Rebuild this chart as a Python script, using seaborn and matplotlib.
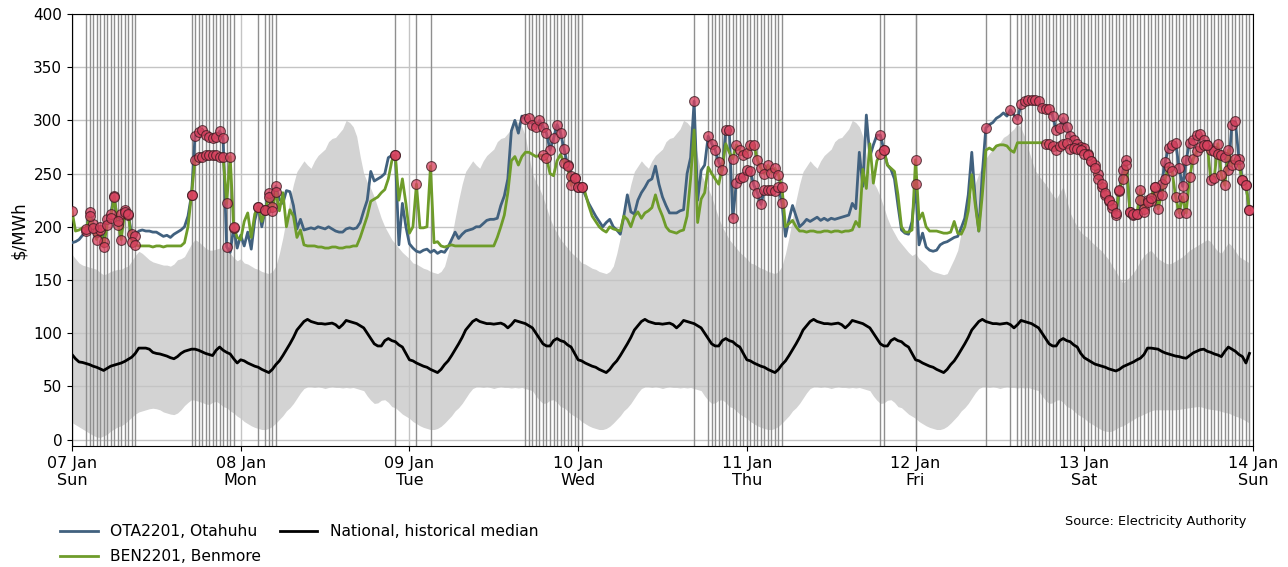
import numpy as np
import pandas as pd
import matplotlib
matplotlib.use("Agg")
import matplotlib.pyplot as plt
import matplotlib.dates as mdates
import seaborn as sns

# Half-hourly prices ($/MWh), one list of 48 trading periods per day
ota_sun = [185,186,188,192,196,214,203,195,197,186,207,212,229,202,212,216,211,193,191,196,
           197,196,196,195,195,193,191,192,190,193,195,197,200,210,230,285,289,291,286,284,
           283,284,290,283,181,176,199,180]
ota_mon = [192,182,195,179,206,219,200,216,232,219,238,226,222,234,233,220,198,207,197,198,
           199,198,200,199,198,200,198,196,195,195,198,199,198,199,204,215,225,252,243,245,
           247,250,265,267,267,183,222,200]
ota_tue = [184,180,177,176,178,179,176,178,175,177,176,181,188,195,189,193,196,197,198,200,
           200,203,206,207,207,208,220,229,245,290,300,288,304,301,302,296,294,300,294,288,
           272,283,296,288,273,258,248,246]
ota_wed = [237,237,230,222,216,210,205,200,204,207,200,197,193,210,230,214,212,225,232,237,
           243,245,257,240,228,220,213,213,213,215,216,250,265,318,225,253,258,285,278,272,
           261,253,291,291,208,241,246,247]
ota_thu = [253,252,239,232,221,235,235,235,234,237,222,191,207,220,210,200,203,207,205,207,
           209,206,208,206,208,207,208,209,210,211,222,217,270,238,305,266,277,286,286,272,
           258,254,245,220,197,194,193,205]
ota_fri = [240,183,194,181,178,177,178,183,185,186,188,190,191,199,208,230,270,225,196,250,
           293,296,298,302,304,307,304,310,305,301,315,318,319,319,319,318,312,311,311,304,
           291,293,302,294,285,282,278,275]
ota_sat = [274,268,262,258,250,237,230,224,218,211,234,253,263,214,211,212,225,217,225,224,
           237,230,240,261,274,277,279,255,238,263,279,282,286,287,282,277,272,271,268,267,
           266,253,296,299,264,244,239,216]

ben_sun = [215,196,197,199,198,210,199,188,200,181,202,208,228,205,188,214,212,186,183,182,
           182,182,182,181,182,182,181,182,182,182,182,182,185,200,230,263,266,266,267,267,
           267,267,266,266,222,266,200,190]
ben_mon = [188,205,213,190,212,219,205,216,228,215,233,215,232,200,216,210,190,197,183,182,
           182,182,181,181,180,180,181,181,180,180,181,181,182,182,190,200,210,224,226,228,
           232,235,245,262,267,225,245,222]
ben_tue = [194,200,240,199,199,200,257,185,186,182,181,182,183,182,182,182,182,182,182,182,
           182,182,182,182,182,190,200,211,232,262,266,258,266,270,270,268,266,267,267,265,
           250,248,262,268,260,257,239,246]
ben_wed = [237,237,232,220,210,205,200,197,195,200,198,197,196,210,207,200,210,214,208,213,
           215,218,230,218,210,200,196,195,194,196,197,210,245,291,204,226,232,256,250,245,
           240,255,278,270,264,277,272,267]
ben_thu = [269,277,277,263,255,250,258,251,255,249,237,200,203,206,200,196,196,195,196,196,
           195,195,196,196,195,196,196,195,196,196,197,205,200,254,236,278,241,262,268,272,
           258,255,252,230,200,195,195,197]
ben_fri = [263,207,213,200,196,196,196,195,194,194,195,205,194,193,200,215,249,220,196,230,
           272,274,272,276,277,277,276,272,270,279,279,279,279,279,279,279,279,278,278,276,
           272,276,278,279,273,274,273,272]
ben_sat = [268,267,262,255,245,240,232,225,220,213,235,245,258,214,212,212,235,214,223,227,
           237,217,230,245,256,252,228,213,228,213,247,264,271,275,277,277,244,246,278,249,
           239,272,258,264,258,244,239,216]

# National historical median and range by day type
med_sun = [80,76,73,72.5,71.5,70.5,69,68,66.5,65,67,69,70,71,72,73.5,75.5,77.5,81,86,
           86,86,85,82,81,80.5,79.5,78.5,77,76,78,81,83,84,85,85,84,82.5,81,80,
           79,84,87,84,82,80.5,76,72]
med_wkd = [75,74,72,70.5,69,68,66,64.5,63,66,70.5,74,79,84.5,90,96,103,107,111,113,
           111,110,109,109,108.5,109,109.5,108,105,108,112,111,110,109,107,105,100,95,90,88,
           88,93,95,93,92,89,87,81]
med_sat = [77,75,73,71,70,69,68,66.5,65.5,64.5,66,68.5,70,71.5,73,75,76.6,80,86,86,
           85.5,85,83,81.5,80.5,79.5,78.5,78,77,76.5,79,81.5,83,84.5,85,83,82,80.5,79.5,78,
           83,87,85,83,80,78,72,81]

lo_sun = [16,14,12,10,8,6,4,2.5,2,3.5,5,8,10,12,13,15,18,21,24,26,
          27,28,29,29.5,29,28,26,25,24,23.5,25,28,32,35,37.5,37,36,35,33.5,33,
          35,36,34,31,30,27,25,22]
lo_wkd = [20,17,15,13,11.5,10.5,9.5,9.5,10.5,12.5,15.5,19,22.5,27,30,34,39,44,48,49.5,
          49.5,49,49.5,49,48,49,49.5,49,49,48.5,49,48.5,49,48,47,46,41,37,34,34.5,
          37,37.5,35,31,30,27,24,22]
lo_sat = [20,17,15,13,11,9,8,7.5,8,10,12,13,15,17,19,21,22.5,24,25.5,27,
          28,28,28,28,28,28,28,28.5,29,29.5,30,30.5,31,31,30,29,28.5,28,27.5,26.5,
          25.5,25,23.5,22,21,19.5,17.5,15.5]

hi_sun = [174,170,166,164,163,162,161,160,157,155,156,158,159,160,160,162,163,168,173,177,
          175,172,169,167,166,165,164,164,163,165,169,170,172,178,184,188,186,183,180,178,
          178,179,180,180,178,175,171,168]
hi_wkd = [170,166,165,163,161,160,158,157,156,158,163,175,190,208,225,240,252,257,262,258,
          255,262,267,270,273,280,283,284,288,292,300,298,294,285,266,250,242,236,228,218,
          208,200,194,188,184,180,176,173]
hi_fri = [175,170,167,164,160,158,157,156,155,156,163,170,178,195,205,220,232,241,250,258,
          264,269,273,276,279,284,286,289,292,297,293,285,274,263,253,248,244,240,235,230,
          226,232,238,225,213,206,200,195]
hi_sat = [192,190,186,183,180,177,173,169,163,158,152,147,150,153,157,162,168,173,176,178,
          174,170,168,166,165,166,168,170,172,175,178,180,182,184,186,188,186,181,177,175,
          180,185,182,177,172,170,168,166]

# Flagged trading periods (index from 07 Jan 00:00)
ota_flag = (list(range(4, 19)) + list(range(34, 45)) + [46, 53, 55, 56, 57, 58, 92]
            + list(range(129, 146)) + [177] + list(range(181, 203))
            + [230, 231, 240, 260, 267] + list(range(269, 336)))
ben_flag = ([0] + list(range(4, 19)) + list(range(34, 47)) + [53, 55, 56, 57, 58, 92, 98, 102, 134, 135]
            + list(range(140, 146)) + list(range(188, 203)) + [230, 231, 240]
            + list(range(277, 336)))

tick_labels_fmt = "%d %b\n%a"

# Assemble the week
ota = np.array(ota_sun + ota_mon + ota_tue + ota_wed + ota_thu + ota_fri + ota_sat, float)
ben = np.array(ben_sun + ben_mon + ben_tue + ben_wed + ben_thu + ben_fri + ben_sat, float)
median = np.array(med_sun + med_wkd * 5 + med_sat, float)
lower = np.array(lo_sun + lo_wkd * 5 + lo_sat, float)
upper = np.array(hi_sun + hi_wkd * 4 + hi_fri + hi_sat, float)
times = pd.date_range("2024-01-07 00:00", periods=len(ota), freq="30min")

df = pd.DataFrame({"time": times, "ota": ota, "ben": ben, "median": median,
                   "lower": lower, "upper": upper})

BLUE = "#41617f"
GREEN = "#6e9c2a"
MARK = "#d8405e"

fig = plt.figure(figsize=(12.88, 5.67), dpi=100)
ax = fig.add_axes([0.0559, 0.2134, 0.9169, 0.762])

ax.fill_between(df["time"], df["lower"], df["upper"], color="#d3d3d3", lw=0, zorder=0.3)

flagged = sorted(set(ota_flag) | set(ben_flag))
for i in flagged:
    ax.axvline(df["time"].iloc[i], color="#8f8f8f", lw=1.0, zorder=0.6)

sns.lineplot(data=df, x="time", y="ota", color=BLUE, lw=2, ax=ax, label="OTA2201, Otahuhu", zorder=3)
sns.lineplot(data=df, x="time", y="ben", color=GREEN, lw=2, ax=ax, label="BEN2201, Benmore", zorder=3)
sns.lineplot(data=df, x="time", y="median", color="black", lw=2, ax=ax,
             label="National, historical median", zorder=3)

sns.scatterplot(x=df["time"].iloc[ota_flag], y=df["ota"].iloc[ota_flag], s=50, color=MARK,
                alpha=0.75, edgecolor="#3a1a20", linewidth=0.8, ax=ax, zorder=5, legend=False)
sns.scatterplot(x=df["time"].iloc[ben_flag], y=df["ben"].iloc[ben_flag], s=50, color=MARK,
                alpha=0.75, edgecolor="#3a1a20", linewidth=0.8, ax=ax, zorder=5, legend=False)

ax.set_xlim(pd.Timestamp("2024-01-07"), pd.Timestamp("2024-01-14"))
ax.set_ylim(-6, 400)
ax.set_yticks(np.arange(0, 401, 50))
ax.xaxis.set_major_locator(mdates.DayLocator())
ax.xaxis.set_major_formatter(mdates.DateFormatter(tick_labels_fmt))
ax.tick_params(axis="y", labelsize=11)
ax.tick_params(axis="x", labelsize=11.5)
ax.grid(True, color="#c4c4c4", lw=1)
ax.set_axisbelow(True)
ax.set_xlabel("")
ax.set_ylabel("\\$/MWh", fontsize=12)
for s in ax.spines.values():
    s.set_color("black")

handles, labels = ax.get_legend_handles_labels()
ax.get_legend().remove()
fig.legend(handles, labels, loc="upper left", bbox_to_anchor=(0.036, 0.1), ncol=2,
           frameon=False, fontsize=11.2, columnspacing=1.2, handlelength=2.4,
           labelspacing=0.62)
fig.text(0.968, 0.081, "Source: Electricity Authority", ha="right", va="center", fontsize=9.3)

fig.savefig("out.png", dpi=100)
